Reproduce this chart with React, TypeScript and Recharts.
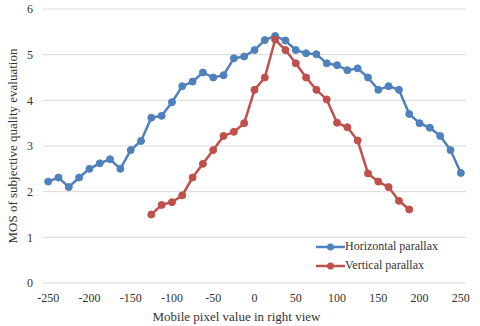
import { LineChart, Line, XAxis, YAxis, CartesianGrid, Legend } from 'recharts'

const xValues = [
  -250, -237.5, -225, -212.5, -200, -187.5, -175, -162.5, -150, -137.5,
  -125, -112.5, -100, -87.5, -75, -62.5, -50, -37.5, -25, -12.5,
  0, 12.5, 25, 37.5, 50, 62.5, 75, 87.5, 100, 112.5,
  125, 137.5, 150, 162.5, 175, 187.5, 200, 212.5, 225, 237.5, 250,
]

const horizontal = [
  2.22, 2.31, 2.1, 2.31, 2.5, 2.62, 2.71, 2.5, 2.91, 3.11,
  3.62, 3.66, 3.96, 4.31, 4.41, 4.61, 4.5, 4.55, 4.92, 4.96,
  5.1, 5.32, 5.41, 5.31, 5.1, 5.03, 5.01, 4.81, 4.77, 4.66,
  4.7, 4.5, 4.23, 4.31, 4.23, 3.7, 3.5, 3.4, 3.22, 2.91, 2.41,
]

const vertical = [
  null, null, null, null, null, null, null, null, null, null,
  1.5, 1.71, 1.77, 1.92, 2.31, 2.61, 2.91, 3.22, 3.31, 3.5,
  4.23, 4.5, 5.33, 5.1, 4.81, 4.5, 4.23, 4.02, 3.51, 3.41,
  3.12, 2.4, 2.22, 2.1, 1.8, 1.61, null, null, null, null, null,
]

const xTicks = [-250, -200, -150, -100, -50, 0, 50, 100, 150, 200, 250]
const yTicks = [0, 1, 2, 3, 4, 5, 6]

const BLUE = '#4f81bd'
const RED = '#c0504d'
const FONT = '"Liberation Serif", "Times New Roman", serif'

const chartData = xValues.map((x, i) => ({
  x,
  horizontal: horizontal[i],
  vertical: vertical[i],
}))

function LegendBox() {
  const items = [
    { name: 'Horizontal parallax', color: BLUE },
    { name: 'Vertical parallax', color: RED },
  ]
  return (
    <div style={{ fontFamily: FONT, fontSize: 12, color: '#333' }}>
      {items.map((it) => (
        <div key={it.name} style={{ display: 'flex', alignItems: 'center', height: 19, whiteSpace: 'nowrap' }}>
          <svg width={29} height={10}>
            <line x1={0} y1={5} x2={29} y2={5} stroke={it.color} strokeWidth={2.5} />
            <circle cx={14.5} cy={5} r={3.5} fill={it.color} />
          </svg>
          <span>{it.name}</span>
        </div>
      ))}
    </div>
  )
}

export default function App() {
  return (
    <div style={{ position: 'absolute', left: 0, top: 0, background: '#fff' }}>
      <LineChart
        width={480}
        height={326}
        data={chartData}
        margin={{ top: 9, right: 14, left: 0, bottom: 0 }}
      >
        <CartesianGrid vertical={false} stroke="#d9d9d9" />
        <XAxis
          dataKey="x"
          type="number"
          domain={[-256.25, 256.25]}
          ticks={xTicks}
          allowDataOverflow
          axisLine={false}
          tickLine={false}
          tickMargin={4}
          height={43}
          tick={{ fontFamily: FONT, fontSize: 12, fill: '#333' }}
          label={{
            value: 'Mobile pixel value in right view',
            position: 'insideBottom',
            offset: 5,
            dx: -18,
            style: { fontFamily: FONT, fontSize: 13, fill: '#333' },
          }}
        />
        <YAxis
          domain={[0, 6]}
          ticks={yTicks}
          width={43}
          axisLine={false}
          tickLine={false}
          tickMargin={4}
          tick={{ fontFamily: FONT, fontSize: 12, fill: '#333' }}
          label={{
            value: 'MOS of subjective quality evaluation',
            angle: -90,
            position: 'insideLeft',
            offset: 12,
            style: { fontFamily: FONT, fontSize: 13, fill: '#333', textAnchor: 'middle' },
          }}
        />
        <Legend
          layout="vertical"
          align="center"
          verticalAlign="middle"
          content={<LegendBox />}
          wrapperStyle={{ position: 'absolute', left: 316, top: 237, width: 'auto', height: 'auto', margin: 0 }}
        />
        <Line
          dataKey="horizontal"
          name="Horizontal parallax"
          stroke={BLUE}
          strokeWidth={2.5}
          dot={{ r: 3.5, fill: BLUE, stroke: BLUE, strokeWidth: 1 }}
          isAnimationActive={false}
        />
        <Line
          dataKey="vertical"
          name="Vertical parallax"
          stroke={RED}
          strokeWidth={2.5}
          dot={{ r: 3.5, fill: RED, stroke: RED, strokeWidth: 1 }}
          isAnimationActive={false}
        />
      </LineChart>
    </div>
  )
}
